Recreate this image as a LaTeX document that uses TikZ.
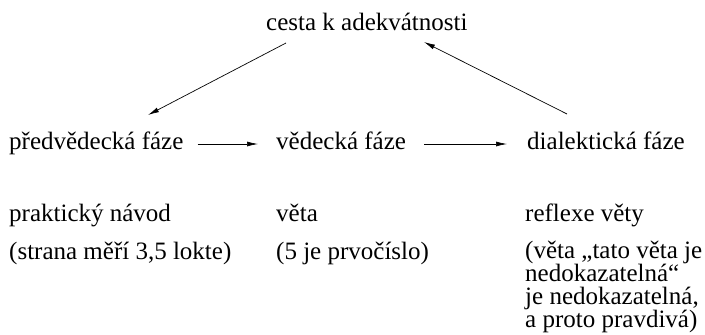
\documentclass[tikz,border=0pt]{standalone}
\usepackage{fontspec}
\setmainfont{Liberation Serif}
\usetikzlibrary{arrows.meta}
\tikzset{
  lbl/.style={anchor=base west, inner sep=0pt, font=\fontsize{25}{25}\selectfont},
  arr/.style={line width=0.7pt, -{Latex[length=11pt,width=5pt]}}
}
\begin{document}
\begin{tikzpicture}[x=1pt,y=-1pt]
\useasboundingbox (0,0) rectangle (705,335);
% top goal
\node[lbl] (cesta) at (266,30) {cesta k adekvátnosti};
% three phases
\node[lbl] (pred) at (9,149) {předvědecká fáze};
\node[lbl] (ved)  at (276,149) {vědecká fáze};
\node[lbl] (dial) at (527,149) {dialektická fáze};
% examples under each phase
\node[lbl] (nav)  at (9,221) {praktický návod};
\node[lbl] (navx) at (9,259) {(strana měří 3,5 lokte)};
\node[lbl] (veta) at (276,221) {věta};
\node[lbl] (vetx) at (276,259) {(5 je prvočíslo)};
\node[lbl] (refl) at (525,221) {reflexe věty};
\node[lbl] (r1) at (525,258.8) {(věta „tato věta je};
\node[lbl] (r2) at (525,281.6) {nedokazatelná“};
\node[lbl] (r3) at (525,304.4) {je nedokazatelná,};
\node[lbl] (r4) at (525,327.2) {a proto pravdivá)};
% cycle of arrows
\draw[arr] ([shift={(20pt,-13pt)}]cesta.base west) -- ([shift={(139pt,34pt)}]pred.base west);
\draw[arr] ([shift={(14pt,5pt)}]pred.base east) -- ([shift={(-18pt,5pt)}]ved.base west);
\draw[arr] ([shift={(18pt,5pt)}]ved.base east) -- ([shift={(-20pt,5pt)}]dial.base west);
\draw[arr] ([shift={(40pt,35pt)}]dial.base west) -- ([shift={(158pt,-12pt)}]cesta.base west);
\end{tikzpicture}
\end{document}
